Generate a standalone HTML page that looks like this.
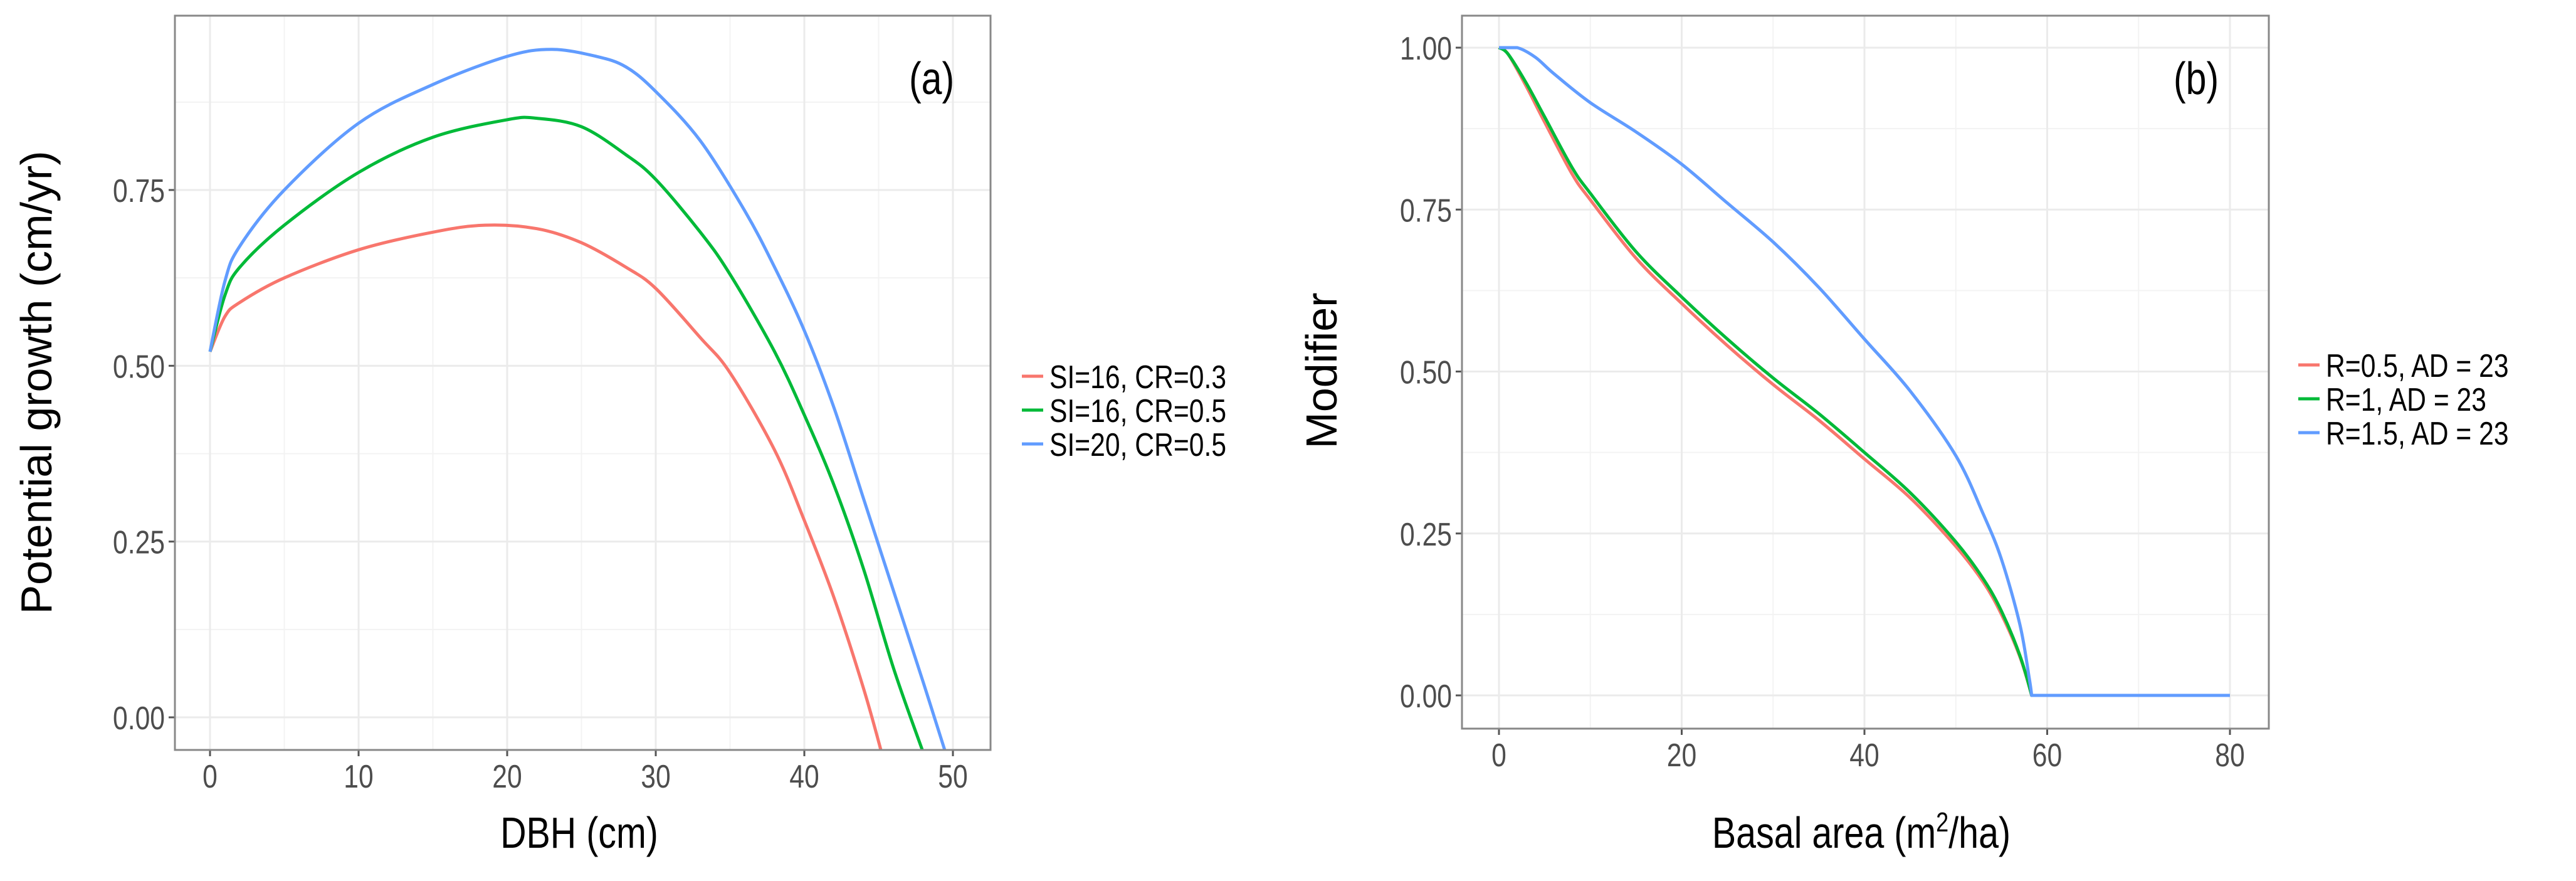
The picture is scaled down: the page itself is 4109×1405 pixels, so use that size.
<!DOCTYPE html>
<html><head><meta charset="utf-8"><style>
html,body{margin:0;padding:0;background:#fff}
svg{display:block;font-family:"Liberation Sans",sans-serif}
</style></head><body>
<svg id="fig" width="4109" height="1405" viewBox="0 0 4109 1405"></svg>
<script>
// Panel (a) data
const aTicksX=[0,10,20,30,40,50];
const aTicksY=[0,0.25,0.5,0.75];
const aTickLabelsY=["0.00","0.25","0.50","0.75"];
const aLegend=["SI=16, CR=0.3","SI=16, CR=0.5","SI=20, CR=0.5"];
const aRedX=[0,1,2,5,10,15,18.5,22,25,28,30,33,35,38,40,42,44,45.2];
const aRedY=[0.52,0.57,0.59,0.625,0.665,0.69,0.70,0.695,0.675,0.64,0.61,0.54,0.49,0.38,0.28,0.17,0.04,-0.05];
const aGreenX=[0,1,2,5,10,15,20,22,25,28,30,33,35,38,40,42,44,46,48];
const aGreenY=[0.52,0.6,0.64,0.70,0.775,0.825,0.85,0.852,0.84,0.80,0.765,0.69,0.63,0.52,0.43,0.33,0.21,0.07,-0.05];
const aBlueX=[0,1,2,5,10,15,20,23,26,28,30,33,36,38,40,42,44,46,48,49.5];
const aBlueY=[0.52,0.62,0.67,0.75,0.845,0.90,0.94,0.95,0.94,0.925,0.89,0.82,0.72,0.64,0.55,0.44,0.31,0.18,0.05,-0.05];
// Panel (b) data
const bTicksX=[0,20,40,60,80];
const bTicksY=[0,0.25,0.5,0.75,1];
const bTickLabelsY=["0.00","0.25","0.50","0.75","1.00"];
const bLegend=["R=0.5, AD = 23","R=1, AD = 23","R=1.5, AD = 23"];
const bRedX=[0,1,3,5,8,10,15,20,25,30,35,40,45,50,53,55,57,58.3,80];
const bRedY=[1,0.99,0.94,0.885,0.805,0.765,0.675,0.605,0.54,0.48,0.425,0.365,0.305,0.23,0.175,0.125,0.06,0,0];
const bGreenX=[0,1,3,5,8,10,15,20,25,30,35,40,45,50,53,55,57,58.3,80];
const bGreenY=[1,0.99,0.945,0.893,0.815,0.775,0.685,0.615,0.55,0.49,0.435,0.375,0.313,0.237,0.18,0.13,0.062,0,0];
const bBlueX=[0,2,4,6,10,15,20,25,30,35,40,45,50,53,55,57,58,58.3,80];
const bBlueY=[1,1.0,0.985,0.96,0.915,0.87,0.82,0.76,0.70,0.63,0.55,0.47,0.37,0.28,0.21,0.11,0.03,0,0];

const colors=["#F8766D","#00BA38","#619CFF"];
const NS="http://www.w3.org/2000/svg";
const svg=document.getElementById('fig');
function mk(tag,attrs,parent,text){const e=document.createElementNS(NS,tag);for(const k in attrs)e.setAttribute(k,attrs[k]);if(text!==undefined)e.textContent=text;(parent||svg).appendChild(e);return e;}
function txt(x,y,size,anchor,str,parent,rot){
  const t=mk('text',{x:0,y:0,'text-anchor':anchor,'font-size':size,fill:parent.fillc||'#000',transform:'translate('+x+','+y+')'+(rot?' rotate(-90)':'')+' scale(0.82,1)'},parent,str);
  return t;
}
function smoothPath(pts){
  let d='M'+pts[0][0].toFixed(1)+','+pts[0][1].toFixed(1);
  for(let i=0;i<pts.length-1;i++){
    const p0=pts[Math.max(0,i-1)],p1=pts[i],p2=pts[i+1],p3=pts[Math.min(pts.length-1,i+2)];
    if(p1[1]===p2[1]||(i>0&&p2[1]===p3[1]&&p1[1]!==p2[1]&&false)){d+=' L'+p2[0].toFixed(1)+','+p2[1].toFixed(1);continue;}
    const c1=[p1[0]+(p2[0]-p0[0])/6,p1[1]+(p2[1]-p0[1])/6];
    let c2=[p2[0]-(p3[0]-p1[0])/6,p2[1]-(p3[1]-p1[1])/6];
    if(p3!==p2&&p2[1]===p3[1])c2=[p2[0],p2[1]];
    d+=' C'+c1[0].toFixed(1)+','+c1[1].toFixed(1)+' '+c2[0].toFixed(1)+','+c2[1].toFixed(1)+' '+p2[0].toFixed(1)+','+p2[1].toFixed(1);
  }
  return d;
}

function panel(p){
  const g=mk('g',{});
  
  
  const sx=v=>p.x0px+(v-p.xt0)*(p.x1px-p.x0px)/(p.xt1-p.xt0);
  const sy=v=>p.y0px+(v-p.yt0)*(p.y1px-p.y0px)/(p.yt1-p.yt0);
  for(let i=0;i<p.ticksX.length+1;i++){const v=p.ticksX[0]+(i-0.5)*(p.ticksX[1]-p.ticksX[0]);const X=sx(v);if(X>p.L&&X<p.R){const l=mk('line',{x1:X,x2:X,y1:p.T,y2:p.B,stroke:'#f3f3f3','stroke-width':2},g);}}
  for(let i=0;i<p.ticksY.length+1;i++){const v=p.ticksY[0]+(i-0.5)*(p.ticksY[1]-p.ticksY[0]);const Y=sy(v);if(Y>p.T&&Y<p.B){const l=mk('line',{x1:p.L,x2:p.R,y1:Y,y2:Y,stroke:'#f3f3f3','stroke-width':2},g);}}
  p.ticksX.forEach(v=>{const X=sx(v);
    const l=mk('line',{x1:X,x2:X,y1:p.T,y2:p.B,stroke:'#ebebeb','stroke-width':3},g);
    
    const t=mk('line',{x1:X,x2:X,y1:p.B,y2:p.B+10,stroke:'#555','stroke-width':3},g);
    
    const gg=mk('g',{fill:'#4d4d4d'},g);gg.fillc='#4d4d4d';
    const tx=txt(X,p.B+60,52,'middle',String(v),gg);
    
  });
  p.ticksY.forEach((v,i)=>{const Y=sy(v);
    const l=mk('line',{x1:p.L,x2:p.R,y1:Y,y2:Y,stroke:'#ebebeb','stroke-width':3},g);
    
    const t=mk('line',{x1:p.L-10,x2:p.L,y1:Y,y2:Y,stroke:'#555','stroke-width':3},g);
    
    const gg=mk('g',{},g);gg.fillc='#4d4d4d';
    const tx=txt(p.L-16,Y+19,52,'end',p.labelsY[i],gg);
    
  });
  const cp='clip-'+p.name;
  const defs=mk('defs',{},g);const c=mk('clipPath',{id:cp},defs);mk('rect',{x:p.L,y:p.T,width:p.R-p.L,height:p.B-p.T},c);
  p.series.forEach((s,k)=>{
    const pts=s.x.map((v,i)=>[sx(v),sy(s.y[i])]);
    const pa=mk('path',{d:smoothPath(pts),fill:'none',stroke:colors[k],'stroke-width':5,'stroke-linejoin':'round','clip-path':'url(#'+cp+')'},g);
    
  });
  const bx=mk('rect',{x:p.L,y:p.T,width:p.R-p.L,height:p.B-p.T,fill:'none',stroke:'#888','stroke-width':3},g);
  
  const pl=txt(p.tagX,p.T+125,72,'start',p.tag,g);
  
  const xt=mk('text',{x:0,y:0,'text-anchor':'middle','font-size':70,fill:'#000',transform:'translate('+p.xTitleX+',1352) scale(0.82,1)'},g);
  xt.innerHTML=p.xTitle;
  
  const yt=mk('text',{x:0,y:0,'text-anchor':'middle','font-size':70,fill:'#000',transform:'translate('+p.yTitleX+','+p.yTitleY+') rotate(-90)'},g,p.yTitle);
  
  p.legend.forEach((lab,k)=>{const Y=p.legY+k*54;
    const e=mk('g',{},g);
    mk('line',{x1:p.legX,x2:p.legX+34,y1:Y,y2:Y,stroke:colors[k],'stroke-width':5},e);
    txt(p.legX+44,Y+19,52,'start',lab,e);
  });
}
panel({name:'panel-a',L:279,R:1580,T:25,B:1196,xt0:0,xt1:50,x0px:335,x1px:1520,yt0:0,yt1:0.75,y0px:1144,y1px:303,
  ticksX:aTicksX,ticksY:aTicksY,labelsY:aTickLabelsY,
  series:[{x:aRedX,y:aRedY},{x:aGreenX,y:aGreenY},{x:aBlueX,y:aBlueY}],
  tag:'(a)',tagX:1450,xTitle:'DBH (cm)',xTitleX:924,yTitle:'Potential growth (cm/yr)',yTitleX:82,yTitleY:610,
  legend:aLegend,legX:1630,legY:600});
panel({name:'panel-b',L:2332,R:3619,T:25,B:1162,xt0:0,xt1:80,x0px:2391,x1px:3557,yt0:0,yt1:1,y0px:1109,y1px:76,
  ticksX:bTicksX,ticksY:bTicksY,labelsY:bTickLabelsY,
  series:[{x:bRedX,y:bRedY},{x:bGreenX,y:bGreenY},{x:bBlueX,y:bBlueY}],
  tag:'(b)',tagX:3467,xTitle:'Basal area (m<tspan dy="-26" font-size="44">2</tspan><tspan dy="26">/ha)</tspan>',xTitleX:2969,yTitle:'Modifier',yTitleX:2132,yTitleY:591,
  legend:bLegend,legX:3666,legY:582});
</script>
</body></html>
